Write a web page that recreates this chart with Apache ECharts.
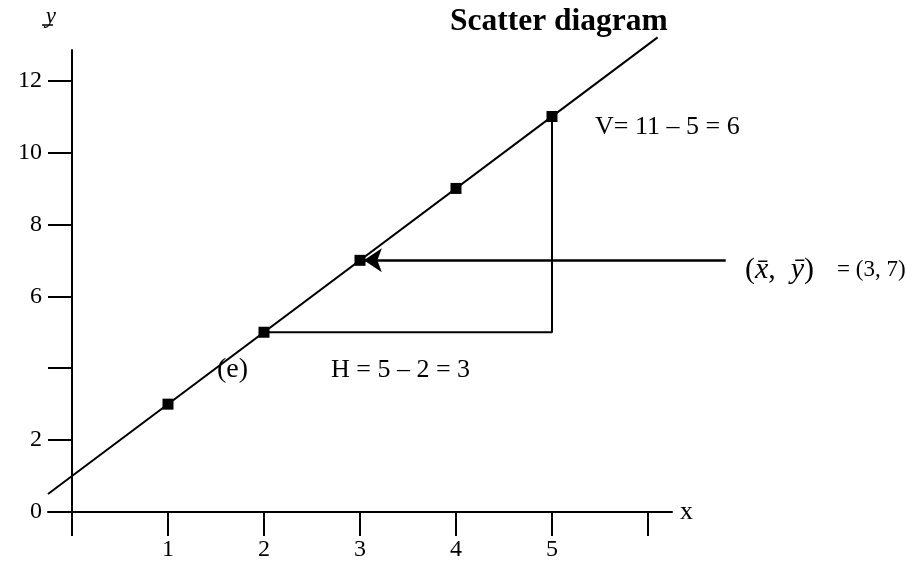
<!DOCTYPE html>
<html>
<head>
<meta charset="utf-8">
<script src="https://cdn.jsdelivr.net/npm/echarts@6/dist/echarts.min.js"></script>
<style>
  html, body { margin: 0; padding: 0; background: #fff; }
  #chart { width: 906px; height: 562px; }
</style>
</head>
<body>
<div id="chart"></div>
<script>
// data
const points = [[1, 3], [2, 5], [3, 7], [4, 9], [5, 11]];
const fitLine = [[-0.25, 0.5], [6.1, 13.2]];
const riseRun = [[2, 5], [5, 5], [5, 11]];
const meanArrow = [[6.81, 7], [3.04, 7]];
const xTicks = [0, 1, 2, 3, 4, 5, 6];
const xLabels = [1, 2, 3, 4, 5];
const yTicks = [2, 4, 6, 8, 10, 12];
const yLabels = [0, 2, 6, 8, 10, 12];

const serif = "'Liberation Serif', 'DejaVu Serif', serif";

const container = document.getElementById('chart');
const chart = echarts.init(container, null, { renderer: 'canvas', width: 906, height: 562 });

const option = {
  animation: false,
  backgroundColor: '#fff',
  title: {
    text: 'Scatter diagram',
    left: 450,
    top: 6,
    padding: 0,
    textStyle: { fontFamily: serif, fontWeight: 'bold', fontSize: 31.5, color: '#000' }
  },
  grid: { left: 48, right: 234, top: 50, bottom: 32, containLabel: false, outerBoundsMode: 'none' },
  xAxis: {
    type: 'value',
    min: -0.25,
    max: 6.25,
    name: 'x',
    nameLocation: 'end',
    nameGap: 8,
    nameTextStyle: { fontFamily: serif, fontSize: 26, color: '#000', verticalAlign: 'middle' },
    axisLine: { onZero: true, lineStyle: { color: '#000', width: 2 } },
    axisTick: { show: true, length: 24, customValues: xTicks, lineStyle: { color: '#000', width: 2 } },
    axisLabel: { customValues: xLabels, margin: 8, fontFamily: serif, fontSize: 24, color: '#000' },
    splitLine: { show: false }
  },
  yAxis: {
    type: 'value',
    min: -0.5,
    max: 12.85,
    name: 'y',
    nameLocation: 'end',
    nameGap: 22,
    nameTextStyle: { fontFamily: serif, fontStyle: 'italic', fontSize: 23, color: '#000', align: 'right', padding: [0, 16, 0, 0] },
    axisLine: { onZero: true, lineStyle: { color: '#000', width: 2 } },
    axisTick: { show: true, length: 24, customValues: yTicks, lineStyle: { color: '#000', width: 2 } },
    axisLabel: { customValues: yLabels, margin: 6, fontFamily: serif, fontSize: 24, color: '#000' },
    splitLine: { show: false }
  },
  series: [
    {
      type: 'line',
      data: fitLine,
      symbol: 'none',
      clip: false,
      silent: true,
      lineStyle: { color: '#000', width: 2 },
      z: 2
    },
    {
      type: 'line',
      data: riseRun,
      symbol: 'none',
      clip: false,
      silent: true,
      lineStyle: { color: '#000', width: 2 },
      z: 2
    },
    {
      type: 'lines',
      coordinateSystem: 'cartesian2d',
      clip: false,
      silent: true,
      symbol: ['none', 'arrow'],
      symbolSize: [14, 18],
      lineStyle: { color: '#000', width: 2.5, opacity: 1, curveness: 0 },
      data: [{ coords: meanArrow }],
      z: 3
    },
    {
      type: 'scatter',
      data: points,
      symbol: 'rect',
      symbolSize: 11,
      silent: true,
      itemStyle: { color: '#000', opacity: 1 },
      z: 4
    }
  ],
  graphic: [
    // underline under the y axis name
    { type: 'line', shape: { x1: 42, y1: 25, x2: 53, y2: 25 }, style: { stroke: '#000', lineWidth: 1.5 } },
    {
      type: 'text', x: 595, y: 127,
      style: { text: 'V= 11 \u2013 5 = 6', font: "26px " + serif, fill: '#000', verticalAlign: 'middle' }
    },
    {
      type: 'text', x: 331, y: 370,
      style: { text: 'H = 5 \u2013 2 = 3', font: "26px " + serif, fill: '#000', verticalAlign: 'middle' }
    },
    {
      type: 'text', x: 217, y: 370,
      style: { text: '(e)', font: "28px " + serif, fill: '#000', verticalAlign: 'middle' }
    },
    {
      type: 'text', x: 745, y: 270,
      style: {
        text: '{p|(}{v|x\u0304}{p|,  }{v|y\u0304}{p|)}{q|    = (3, 7)}',
        verticalAlign: 'middle',
        rich: {
          p: { fontFamily: serif, fontSize: 30, fill: '#000' },
          v: { fontFamily: serif, fontSize: 30, fontStyle: 'italic', fill: '#000' },
          q: { fontFamily: serif, fontSize: 23, fill: '#000' }
        }
      }
    }
  ]
};

chart.setOption(option);
</script>
</body>
</html>
